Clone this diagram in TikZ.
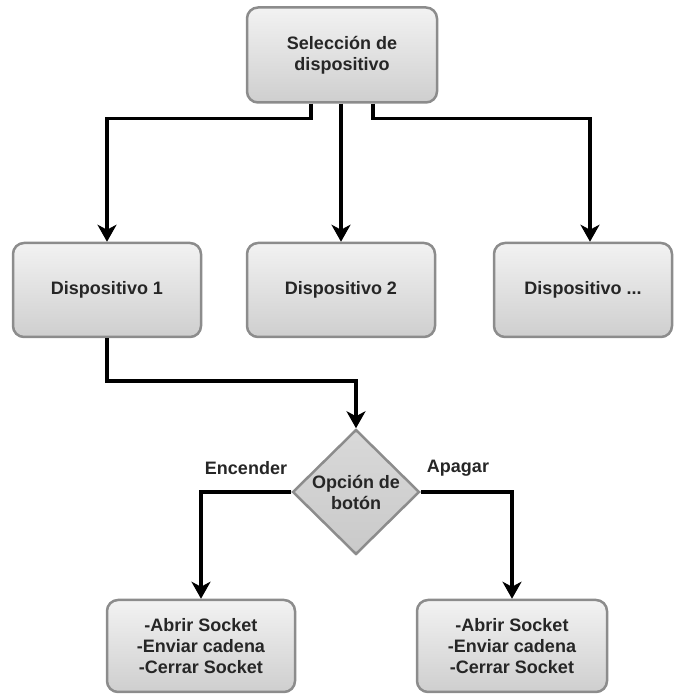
\documentclass[tikz,border=0pt]{standalone}
\usepackage{fontspec}
\setmainfont{Liberation Sans}
\usetikzlibrary{shapes.geometric,arrows.meta,positioning}

\begin{document}
\begin{tikzpicture}[
    x=1pt, y=1pt,
    boxnode/.style={draw=black!45, line width=2.5pt, rounded corners=11pt,
        top color=gray!10, bottom color=gray!38, minimum width=188pt,
        minimum height=94pt, align=center, inner sep=2pt,
        font=\fontsize{18}{21}\selectfont\bfseries, text=black!85},
    decnode/.style={diamond, draw=black!45, line width=2.5pt,
        top color=gray!30, bottom color=gray!42, minimum width=127pt,
        minimum height=125pt, inner sep=0pt, align=center,
        font=\fontsize{18}{21}\selectfont\bfseries, text=black!85},
    lblnode/.style={font=\fontsize{18}{21}\selectfont\bfseries, text=black!85},
    link/.style={line width=3.5pt, black, -{Stealth[length=17pt,width=19pt,inset=5pt]}}
]
\useasboundingbox (0,0) rectangle (674,694);

% Selection
\node[boxnode, minimum width=190pt, minimum height=95pt] (sel) at (342,639) {Selección de\\dispositivo};

% Devices
\node[boxnode] (dev1) at (107,404) {Dispositivo 1};
\node[boxnode] (dev2) at (341,404) {Dispositivo 2};
\node[boxnode, minimum width=178pt] (dev3) at (583,404) {Dispositivo ...};

% Decision
\node[decnode] (opt) at (356,202) {Opción de\\botón};
\node[lblnode] (on) at (246,226) {Encender};
\node[lblnode] (off) at (458,226) {Apagar};

% Actions
\node[boxnode, minimum height=92pt] (actL) at (201,48) {-Abrir Socket\\-Enviar cadena\\-Cerrar Socket};
\node[boxnode, minimum width=190pt, minimum height=92pt] (actR) at (512,48) {-Abrir Socket\\-Enviar cadena\\-Cerrar Socket};

% Connectors
\draw[link] ([xshift=-31pt]sel.south) -- ++(0,-15) -| (dev1.north);
\draw[link] ([xshift=-1pt]sel.south) -- (dev2.north);
\draw[link] ([xshift=31pt]sel.south) -- ++(0,-15) -| ([xshift=7pt]dev3.north);
\draw[link] (dev1.south) -- ++(0,-43) -| (opt.north);
\draw[link] (opt.west) -| (actL.north);
\draw[link] (opt.east) -| (actR.north);

\end{tikzpicture}
\end{document}
